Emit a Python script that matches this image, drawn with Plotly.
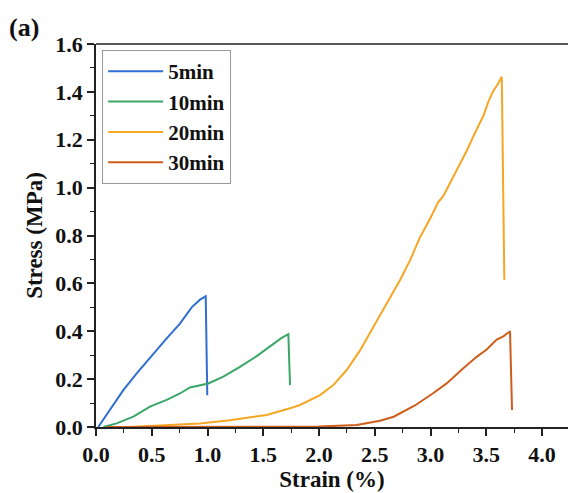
import plotly.graph_objects as go

strain_5 = [0.02, 0.126, 0.245, 0.365, 0.484, 0.634, 0.753, 0.858, 0.933, 0.984, 0.998]
stress_5 = [0.0, 0.071, 0.154, 0.224, 0.29, 0.37, 0.432, 0.50, 0.532, 0.546, 0.133]

strain_10 = [0.066, 0.185, 0.335, 0.484, 0.634, 0.753, 0.843, 0.933, 1.007, 1.142, 1.291, 1.441, 1.56, 1.665, 1.725, 1.74]
stress_10 = [0.0, 0.015, 0.043, 0.085, 0.113, 0.14, 0.165, 0.175, 0.182, 0.21, 0.251, 0.296, 0.338, 0.372, 0.388, 0.175]

strain_20 = [0.3, 0.6, 0.93, 1.2, 1.53, 1.74, 1.83, 2.01, 2.128, 2.248, 2.368, 2.487, 2.607, 2.726, 2.816,
             2.906, 2.996, 3.07, 3.115, 3.2, 3.325, 3.40, 3.474, 3.52, 3.563, 3.6, 3.639, 3.662]
stress_20 = [0.0, 0.006, 0.015, 0.028, 0.05, 0.078, 0.092, 0.133, 0.175, 0.238, 0.32, 0.418, 0.515, 0.613, 0.696,
             0.793, 0.87, 0.94, 0.965, 1.04, 1.154, 1.23, 1.30, 1.36, 1.404, 1.43, 1.463, 0.615]

strain_30 = [0.1, 1.5, 2.0, 2.34, 2.547, 2.67, 2.86, 3.02, 3.145, 3.294, 3.414, 3.504, 3.594, 3.653, 3.713, 3.731]
stress_30 = [0.0, 0.0, 0.002, 0.008, 0.026, 0.043, 0.09, 0.14, 0.182, 0.245, 0.293, 0.324, 0.365, 0.379, 0.40, 0.071]

series = [
    ("5min", strain_5, stress_5, "#2F6FD3"),
    ("10min", strain_10, stress_10, "#3AA668"),
    ("20min", strain_20, stress_20, "#F6A623"),
    ("30min", strain_30, stress_30, "#CF5D1C"),
]

FONT = "Liberation Serif"

fig = go.Figure()
for name, x, y, c in series:
    fig.add_trace(go.Scatter(x=x, y=y, mode="lines", name=name,
                             line=dict(color=c, width=2)))

axis_common = dict(
    showline=True, linecolor="#222", linewidth=1.5,
    ticks="outside", ticklen=7, tickwidth=1.5, tickcolor="#222",
    showgrid=False, zeroline=False,
    tickfont=dict(family=FONT, size=22, color="#111", weight="bold"),
    tickformat=".1f",
)

fig.update_xaxes(range=[0, 4.233], dtick=0.5, tick0=0,
                 minor=dict(ticks="outside", ticklen=4, dtick=0.25, tickcolor="#222", tickwidth=1.2),
                 title=dict(text="Strain (%)", font=dict(family=FONT, size=23, color="#111", weight="bold"), standoff=4),
                 **axis_common)
fig.update_yaxes(range=[0, 1.6], dtick=0.2, tick0=0,
                 minor=dict(ticks="outside", ticklen=4, dtick=0.1, tickcolor="#222", tickwidth=1.2),
                 title=dict(text="Stress (MPa)", font=dict(family=FONT, size=23, color="#111", weight="bold"), standoff=6),
                 **axis_common)

# top frame line
fig.add_shape(type="line", xref="paper", yref="paper", x0=0, x1=1.02, y0=1, y1=1,
              line=dict(color="#222", width=1.5))

fig.add_annotation(text="(a)", xref="paper", yref="paper", x=-0.188, y=1.085,
                   xanchor="left", yanchor="top", showarrow=False,
                   font=dict(family=FONT, size=26, color="#111", weight="bold"))

fig.update_layout(
    width=568, height=493,
    margin=dict(l=96, r=0, t=44, b=66),
    paper_bgcolor="white", plot_bgcolor="white",
    showlegend=True,
    legend=dict(x=0.013, y=0.984, xanchor="left", yanchor="top",
                bordercolor="#999", borderwidth=1, bgcolor="white",
                font=dict(family=FONT, size=21, color="#111", weight="bold"),
                itemwidth=55, tracegroupgap=0),
)

fig.write_html("out.html")
